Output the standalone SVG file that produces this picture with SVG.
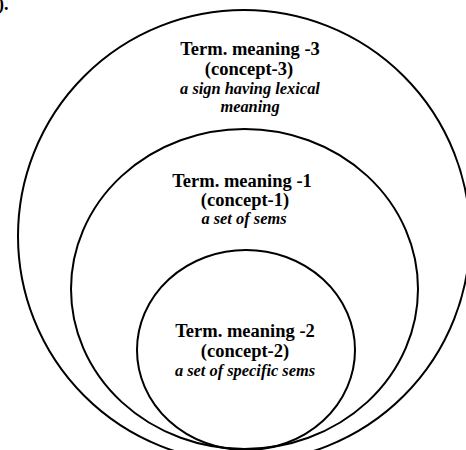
<svg xmlns="http://www.w3.org/2000/svg" width="466" height="450" viewBox="0 0 466 450">
<style>
.ring{fill:none;stroke:#000;stroke-width:2}
.b{font-family:"Liberation Serif",serif;font-weight:bold;font-size:18.5px;text-anchor:middle;fill:#000}
.i{font-family:"Liberation Serif",serif;font-weight:bold;font-style:italic;font-size:16.4px;text-anchor:middle;fill:#000}
</style>
<rect width="466" height="450" fill="#fff"/>
<text x="-2" y="10" font-family="Liberation Serif,serif" font-weight="bold" font-size="18">).</text>
<g id="outer">
<circle class="ring" cx="244" cy="236" r="226"/>
<text class="b" x="250" y="55">Term. meaning -3</text>
<text class="b" x="249" y="75">(concept-3)</text>
<text class="i" x="250" y="94">a sign having lexical</text>
<text class="i" x="250" y="112">meaning</text>
</g>
<g id="middle">
<ellipse class="ring" cx="244.5" cy="289" rx="173.5" ry="160"/>
<text class="b" x="242" y="187">Term. meaning -1</text>
<text class="b" x="245" y="206">(concept-1)</text>
<text class="i" x="244" y="224">a set of sems</text>
</g>
<g id="inner">
<ellipse class="ring" cx="246" cy="350" rx="109" ry="100"/>
<text class="b" x="245" y="337">Term. meaning -2</text>
<text class="b" x="245" y="357">(concept-2)</text>
<text class="i" x="245" y="376">a set of specific sems</text>
</g>
<g id="connectors"></g>
</svg>
